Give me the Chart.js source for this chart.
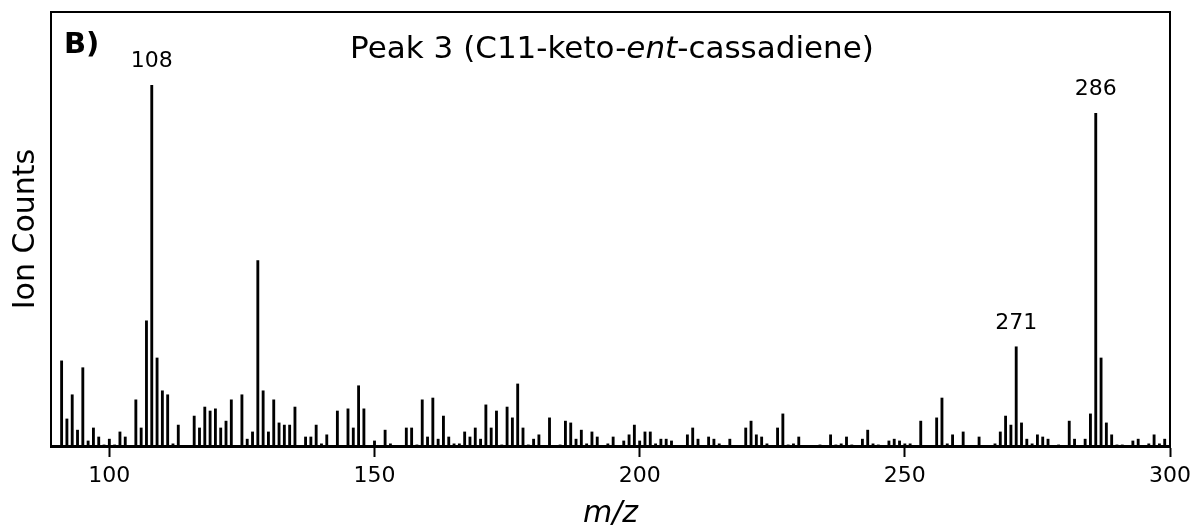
<!DOCTYPE html>
<html lang="en">
    <head>
        <script src="https://cdn.jsdelivr.net/npm/chart.js"></script>
        <style>
            body { margin: 0; background: #fff; }
        </style>
    </head>
    <body>
        <canvas id="myChart" width="1194" height="531"></canvas>
        <script>
            // m/z values and relative ion counts (m/z 108 = 100)
            const mz = [
                91, 92, 93, 94, 95, 96, 97, 98, 99, 100, 101, 102, 103, 105, 106, 107, 108, 109, 110, 111,
                112, 113, 116, 117, 118, 119, 120, 121, 122, 123, 125, 126, 127, 128, 129, 130, 131, 132, 133, 134,
                135, 137, 138, 139, 140, 141, 143, 145, 146, 147, 148, 150, 152, 153, 156, 157, 158, 159, 160, 161,
                162, 163, 164, 165, 166, 167, 168, 169, 170, 171, 172, 173, 174, 175, 176, 177, 178, 179, 180, 181,
                183, 185, 186, 187, 188, 189, 190, 191, 192, 194, 195, 197, 198, 199, 200, 201, 202, 203, 204, 205,
                206, 209, 210, 211, 213, 214, 215, 217, 220, 221, 222, 223, 224, 226, 227, 228, 229, 230, 234, 236,
                237, 238, 239, 240, 242, 243, 244, 245, 247, 248, 249, 250, 251, 253, 256, 257, 258, 259, 261, 264,
                267, 268, 269, 270, 271, 272, 273, 274, 275, 276, 277, 279, 281, 282, 284, 285, 286, 287, 288, 289,
                290, 291, 293, 294, 296, 297, 298, 299,
            ]
            const counts = [
                23.6, 7.5, 14.2, 4.4, 21.7, 1.4, 5.0, 2.5, 0.3, 1.9, 0.3, 3.9, 2.5, 12.8, 5.0, 34.7, 100, 24.4, 15.3, 14.2,
                0.6, 5.8, 8.3, 5.0, 10.8, 9.7, 10.3, 5.0, 6.9, 12.8, 14.2, 1.9, 3.9, 51.4, 15.3, 3.9, 12.8, 6.4, 5.8, 5.8,
                10.8, 2.5, 2.5, 5.8, 0.6, 3.1, 9.7, 10.3, 5.0, 16.7, 10.3, 1.4, 4.4, 0.6, 5.0, 5.0, 0.3, 12.8, 2.5, 13.3,
                1.9, 8.3, 2.5, 0.6, 0.6, 3.9, 2.5, 5.0, 1.9, 11.4, 5.0, 9.7, 0.3, 10.8, 7.8, 17.2, 5.0, 0.3, 1.9, 3.1,
                7.8, 0.3, 6.9, 6.4, 1.9, 4.4, 0.6, 3.9, 2.5, 0.6, 2.5, 1.4, 3.1, 5.8, 1.4, 3.9, 3.9, 0.6, 1.9, 1.9,
                1.4, 3.1, 5.0, 1.9, 2.5, 1.9, 0.6, 1.9, 5.0, 6.9, 3.1, 2.5, 0.6, 5.0, 8.9, 0.3, 0.6, 2.5, 0.3, 3.1,
                0.3, 0.6, 2.5, 0.3, 1.9, 4.4, 0.6, 0.3, 1.4, 1.9, 1.4, 0.6, 0.6, 6.9, 7.8, 13.3, 0.6, 3.1, 3.9, 2.5,
                0.6, 3.9, 8.3, 5.8, 27.5, 6.4, 1.9, 0.6, 3.1, 2.5, 1.9, 0.3, 6.9, 1.9, 1.9, 8.9, 92.2, 24.4, 6.4, 3.1,
                0.3, 0.3, 1.4, 1.9, 0.6, 3.1, 0.6, 1.9,
            ]
            const xTicks = [100, 150, 200, 250, 300]
            const labelledPeaks = [108, 271, 286]

            const font = "'DejaVu Sans', sans-serif"

            const extras = {
                id: "extras",
                afterDraw(chart) {
                    const { ctx, chartArea: a, scales } = chart
                    const x = scales.x
                    const y = scales.y
                    ctx.save()
                    // frame (top, left, right)
                    ctx.strokeStyle = "#000"
                    ctx.lineWidth = 2
                    ctx.beginPath()
                    ctx.moveTo(a.left, a.bottom)
                    ctx.lineTo(a.left, a.top)
                    ctx.lineTo(a.right, a.top)
                    ctx.lineTo(a.right, a.bottom)
                    ctx.stroke()

                    ctx.fillStyle = "#000"
                    ctx.textBaseline = "middle"

                    // peak labels
                    ctx.font = "22px " + font
                    ctx.textAlign = "center"
                    labelledPeaks.forEach((m) => {
                        const v = counts[mz.indexOf(m)]
                        ctx.fillText(String(m), x.getPixelForValue(m), y.getPixelForValue(v) - 24)
                    })

                    // panel letter
                    ctx.font = "bold 29px " + font
                    ctx.textAlign = "left"
                    ctx.fillText("B)", 64, 45)

                    // title with italic "ent"
                    const parts = [
                        ["Peak 3 (C11-keto-", ""],
                        ["ent", "italic "],
                        ["-cassadiene)", ""],
                    ]
                    let total = 0
                    parts.forEach((p) => {
                        ctx.font = p[1] + "31px " + font
                        total += ctx.measureText(p[0]).width
                    })
                    let tx = 612 - total / 2
                    parts.forEach((p) => {
                        ctx.font = p[1] + "31px " + font
                        ctx.fillText(p[0], tx, 50)
                        tx += ctx.measureText(p[0]).width
                    })

                    // axis titles
                    ctx.textAlign = "center"
                    ctx.font = "italic 30px " + font
                    ctx.fillText("m/z", (a.left + a.right) / 2, 514)
                    ctx.translate(26, (a.top + a.bottom) / 2)
                    ctx.rotate(-Math.PI / 2)
                    ctx.font = "30px " + font
                    ctx.fillText("Ion Counts", 0, 0)
                    ctx.restore()
                },
            }

            const ctx = document.getElementById("myChart")
            new Chart(ctx, {
                type: "bar",
                data: {
                    datasets: [
                        {
                            data: mz.map((m, i) => ({ x: m, y: counts[i] })),
                            backgroundColor: "#000",
                            barThickness: 2.2,
                            grouped: false,
                        },
                    ],
                },
                options: {
                    responsive: false,
                    animation: false,
                    layout: { padding: { left: 51, top: 12, right: 24, bottom: 0 } },
                    plugins: { legend: { display: false }, tooltip: { enabled: false } },
                    scales: {
                        x: {
                            type: "linear",
                            min: 89,
                            max: 300,
                            offset: false,
                            afterFit: (s) => {
                                s.height = 85
                                s.paddingLeft = 0
                                s.paddingRight = 0
                            },
                            afterBuildTicks: (s) => {
                                s.ticks = xTicks.map((v) => ({ value: v }))
                            },
                            grid: {
                                display: true,
                                drawOnChartArea: false,
                                drawTicks: true,
                                tickLength: 11,
                                tickWidth: 2,
                                tickColor: "#000",
                                offset: false,
                            },
                            border: { display: true, color: "#000", width: 3 },
                            ticks: {
                                color: "#000",
                                padding: 6,
                                maxRotation: 0,
                                font: { family: font, size: 22 },
                            },
                        },
                        y: {
                            display: false,
                            min: 0,
                            max: 120.3,
                        },
                    },
                },
                plugins: [extras],
            })
        </script>
    </body>
</html>
